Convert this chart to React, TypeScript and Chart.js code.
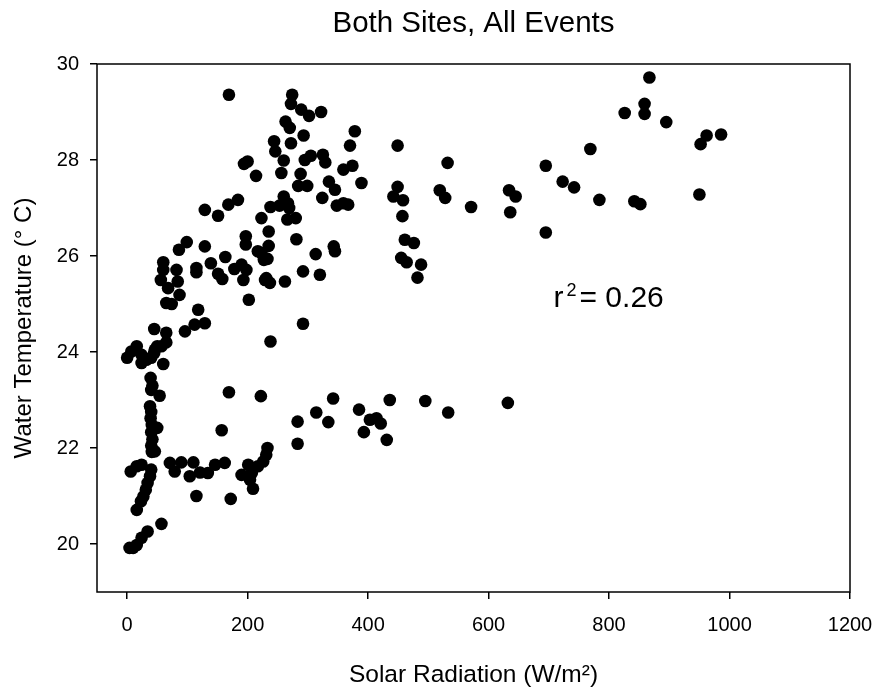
import { useEffect, useRef } from "react";
import { Chart, registerables } from "chart.js";

Chart.register(...registerables);

const chartTitle = "Both Sites, All Events";
const xAxisTitle = "Solar Radiation (W/m²)";
const yAxisTitle = "Water Temperature (° C)";

const xTickValues = [0, 200, 400, 600, 800, 1000, 1200];
const yTickValues = [20, 22, 24, 26, 28, 30];

const rSquaredBase = "r";
const rSquaredExp = "2";
const rSquaredValue = "= 0.26";
const annotationSolar = 707;
const annotationTemp = 24.93;

const solarRadiation = [
  169, 194, 200, 214, 129, 151, 168, 184, 223, 99,
  86, 129, 197, 197, 217, 60, 60, 56, 68, 84,
  87, 82, 115, 115, 139, 151, 158, 163, 178, 190,
  198, 193, 202, 223, 227, 229, 65, 74, 118, 274,
  272, 289, 302, 322, 263, 270, 378, 244, 272, 293,
  370, 449, 246, 260, 295, 305, 325, 329, 374, 359,
  256, 288, 284, 299, 335, 345, 389, 449, 442, 458,
  260, 238, 253, 267, 269, 324, 348, 359, 367, 266,
  280, 457, 235, 281, 461, 476, 235, 233, 313, 343,
  345, 455, 464, 488, 482, 231, 237, 262, 292, 320,
  532, 519, 528, 571, 634, 645, 636, 867, 859, 859,
  826, 895, 769, 962, 952, 986, 695, 723, 742, 784,
  842, 852, 950, 695,
  129, 112, 96, 45, 65, 65, 50, 45, 0, 7,
  16, 24, 24, 32, 40, 46, 57, 60, 39, 42, 40, 54,
  38, 40, 39, 41, 40, 42, 40, 41, 50, 46,
  6, 16, 24, 40, 38, 34, 31, 27, 23, 16,
  57, 34, 24, 16, 4, 10,
  71, 79, 90, 110, 104, 121, 134, 146, 162, 115, 172, 157, 169, 222,
  201, 190, 209, 204, 238, 292, 342, 436, 495, 632,
  533, 314, 283, 334, 385, 403, 414, 421, 393, 431,
  283, 233, 231, 226, 217, 207,
];

const waterTemperature = [
  29.36, 27.92, 27.97, 27.67, 26.96, 26.84, 27.07, 27.17, 26.79, 26.29,
  26.13, 26.2, 26.41, 26.24, 26.1, 25.87, 25.71, 25.5, 25.33, 25.47,
  25.19, 25.71, 25.75, 25.66, 25.85, 25.63, 25.52, 25.98, 25.73, 25.82,
  25.71, 25.5, 25.09, 26.06, 25.92, 25.5, 25.02, 25.0, 24.88, 29.36,
  29.17, 29.05, 28.92, 29.0, 28.8, 28.67, 28.6, 28.39, 28.35, 28.51,
  28.3, 28.3, 28.18, 27.99, 28.0, 28.09, 28.11, 27.95, 27.88, 27.8,
  27.73, 27.71, 27.46, 27.46, 27.55, 27.38, 27.52, 27.44, 27.24, 27.16,
  27.24, 27.02, 27.05, 27.1, 27.0, 27.21, 27.05, 27.1, 27.07, 26.76,
  26.79, 26.83, 26.51, 26.35, 26.34, 26.27, 26.21, 25.94, 26.04, 26.2,
  26.1, 25.96, 25.87, 25.82, 25.55, 25.54, 25.44, 25.47, 25.68, 25.61,
  27.94, 27.37, 27.21, 27.02, 27.37, 27.24, 26.91, 29.72, 29.17, 28.96,
  28.98, 28.79, 28.23, 28.51, 28.33, 28.53, 27.88, 27.55, 27.43, 27.17,
  27.14, 27.08, 27.28, 26.49,
  24.6, 24.57, 24.43, 24.48, 24.4, 24.2, 24.12, 23.98, 23.88, 24.01,
  24.12, 23.94, 23.77, 23.84, 23.88, 24.05, 24.12, 23.75, 23.46, 23.3, 23.21, 23.09,
  22.87, 22.75, 22.62, 22.48, 22.33, 22.18, 22.05, 21.92, 22.42, 21.93,
  21.51, 21.62, 21.65, 21.55, 21.41, 21.27, 21.13, 20.99, 20.89, 20.71,
  20.42, 20.26, 20.13, 19.98, 19.92, 19.92,
  21.69, 21.51, 21.7, 21.7, 21.41, 21.49, 21.48, 21.65, 21.69, 21.0, 20.94, 22.37, 23.16, 23.08,
  21.65, 21.44, 21.15, 21.34, 24.22, 24.59, 23.03, 23.0, 22.98, 22.94,
  22.74, 22.74, 22.55, 22.54, 22.8, 22.59, 22.62, 22.51, 22.33, 22.17,
  22.09, 22.0, 21.86, 21.72, 21.62, 21.48,
];

const FONT = '"Liberation Sans", Arial, Helvetica, sans-serif';

const framePlugin = {
  id: "frameAndAnnotation",
  afterDraw(chart: any) {
    const { ctx, chartArea: a, scales } = chart;
    ctx.save();
    ctx.strokeStyle = "#000";
    ctx.lineWidth = 1.5;
    ctx.strokeRect(a.left, a.top, a.right - a.left, a.bottom - a.top);
    const x = scales.x.getPixelForValue(annotationSolar);
    const y = scales.y.getPixelForValue(annotationTemp);
    ctx.fillStyle = "#000";
    ctx.textAlign = "left";
    ctx.textBaseline = "alphabetic";
    ctx.font = `30px ${FONT}`;
    ctx.fillText(rSquaredBase, x + 0.5, y);
    ctx.font = `18px ${FONT}`;
    ctx.fillText(rSquaredExp, x + 13.5, y - 11);
    ctx.font = `30px ${FONT}`;
    ctx.fillText(rSquaredValue, x + 26.5, y);
    ctx.restore();
  },
};

export default function App() {
  const canvasRef = useRef<HTMLCanvasElement | null>(null);

  useEffect(() => {
    const canvas = canvasRef.current;
    if (!canvas) return;
    const points = solarRadiation.map((s, i) => ({ x: s, y: waterTemperature[i] }));
    const chart = new Chart(canvas, {
      type: "scatter",
      data: {
        datasets: [
          {
            data: points,
            backgroundColor: "#000",
            borderColor: "#000",
            borderWidth: 0,
            pointRadius: 6.3,
            pointHoverRadius: 6.3,
          },
        ],
      },
      plugins: [framePlugin],
      options: {
        responsive: false,
        animation: false,
        devicePixelRatio: 1,
        layout: { padding: { top: 0, right: 25, bottom: 0, left: 0 } },
        plugins: {
          legend: { display: false },
          tooltip: { enabled: false },
          title: {
            display: true,
            text: chartTitle,
            fullSize: false,
            color: "#000",
            font: { size: 29.5, family: FONT, weight: "normal", lineHeight: 1.2 },
            padding: { top: 6.3, bottom: 22.3 },
          },
        },
        scales: {
          x: {
            type: "linear",
            min: -50,
            max: 1200,
            afterBuildTicks: (s: any) => {
              s.ticks = xTickValues.map((v) => ({ value: v }));
            },
            afterFit: (s: any) => {
              s.height = 95;
              s.paddingLeft = 0;
              s.paddingRight = 0;
            },
            border: { display: false },
            grid: {
              display: true,
              drawOnChartArea: false,
              drawTicks: true,
              tickLength: 7,
              color: "#000",
              lineWidth: 1.5,
            },
            ticks: {
              padding: 14,
              color: "#000",
              autoSkip: false,
              maxRotation: 0,
              font: { size: 20, family: FONT },
              callback: (v: any) => String(v),
            },
            title: {
              display: true,
              text: xAxisTitle,
              color: "#000",
              font: { size: 24.5, family: FONT, lineHeight: 1 },
              padding: { top: 0, bottom: 0 },
            },
          },
          y: {
            type: "linear",
            min: 19,
            max: 30,
            afterBuildTicks: (s: any) => {
              s.ticks = yTickValues.map((v) => ({ value: v }));
            },
            afterFit: (s: any) => {
              s.width = 97;
              s.paddingTop = 0;
              s.paddingBottom = 0;
            },
            border: { display: false },
            grid: {
              display: true,
              drawOnChartArea: false,
              drawTicks: true,
              tickLength: 7,
              color: "#000",
              lineWidth: 1.5,
            },
            ticks: {
              padding: 11,
              color: "#000",
              autoSkip: false,
              font: { size: 20, family: FONT },
              callback: (v: any) => String(v),
            },
            title: {
              display: true,
              text: yAxisTitle,
              color: "#000",
              font: { size: 24, family: FONT, lineHeight: 1.2 },
              padding: { top: 10, bottom: 0 },
            },
          },
        },
      },
    } as any);
    return () => chart.destroy();
  }, []);

  return (
    <div style={{ position: "absolute", left: 0, top: 0, width: 875, height: 687, background: "#fff" }}>
      <canvas ref={canvasRef} width={875} height={687} style={{ width: 875, height: 687, display: "block" }} />
    </div>
  );
}
